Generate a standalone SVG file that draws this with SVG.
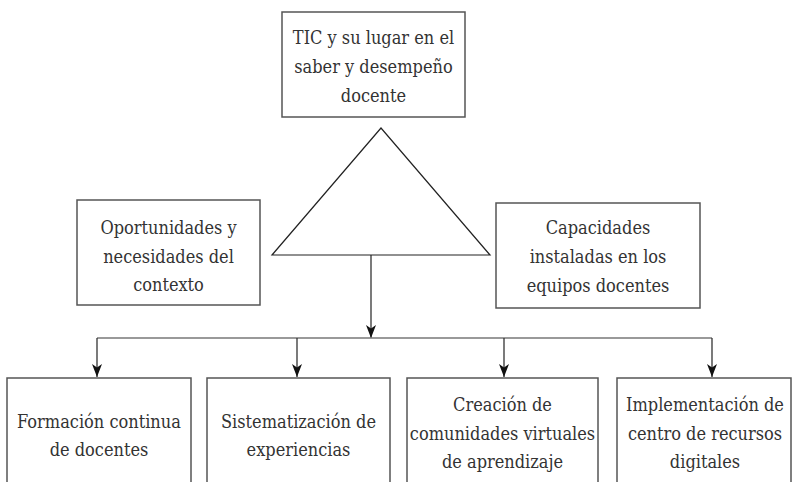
<svg xmlns="http://www.w3.org/2000/svg" width="793" height="482" viewBox="0 0 793 482">
<defs>
<style>
.box{fill:#fff;stroke:#555;stroke-width:1.5}
.tri{fill:#fff;stroke:#222;stroke-width:1.2}
.ln{fill:none;stroke:#333;stroke-width:1.3}
.hl{fill:none;stroke:#777;stroke-width:1.5}
.t{font-family:'DejaVu Serif Condensed','DejaVu Serif',serif;font-stretch:condensed;font-size:18px;fill:#333;text-anchor:middle}
</style>
<marker id="ah" markerWidth="13" markerHeight="10" refX="13" refY="5" orient="auto" markerUnits="userSpaceOnUse" viewBox="0 0 13 10">
<path d="M0,0 L13,5 L0,10 L3.5,5 Z" fill="#111"/>
</marker>
</defs>
<rect width="793" height="482" fill="#fff"/>
<g id="connectors">
<line class="ln" x1="371" y1="255" x2="371" y2="338" marker-end="url(#ah)"/>
<line class="hl" x1="97" y1="338" x2="712" y2="338"/>
<line class="ln" x1="97" y1="338" x2="97" y2="377" marker-end="url(#ah)"/>
<line class="ln" x1="297" y1="338" x2="297" y2="377" marker-end="url(#ah)"/>
<line class="ln" x1="504" y1="338" x2="504" y2="377" marker-end="url(#ah)"/>
<line class="ln" x1="712" y1="338" x2="712" y2="377" marker-end="url(#ah)"/>
</g>
<g id="top" class="t">
<rect class="box" x="282" y="12" width="183" height="105"/>
<text x="373.5" y="44">TIC y su lugar en el</text>
<text x="373.5" y="73">saber y desempeño</text>
<text x="373.5" y="102">docente</text>
</g>
<g id="triangle">
<polygon class="tri" points="381,128 272,255 490,255"/>
</g>
<g id="left" class="t">
<rect class="box" x="77" y="200" width="183" height="105"/>
<text x="168.5" y="234">Oportunidades y</text>
<text x="168.5" y="263">necesidades del</text>
<text x="168.5" y="291">contexto</text>
</g>
<g id="right" class="t">
<rect class="box" x="496" y="203" width="204" height="105"/>
<text x="598" y="234">Capacidades</text>
<text x="598" y="263">instaladas en los</text>
<text x="598" y="292">equipos docentes</text>
</g>
<g id="b1" class="t">
<path class="box" d="M7,490 V378 H191 V490"/>
<text x="99" y="428">Formación continua</text>
<text x="99" y="456">de docentes</text>
</g>
<g id="b2" class="t">
<path class="box" d="M207,490 V378 H390 V490"/>
<text x="298.5" y="428">Sistematización de</text>
<text x="298.5" y="456">experiencias</text>
</g>
<g id="b3" class="t">
<path class="box" d="M407,490 V378 H598 V490"/>
<text x="502.5" y="411">Creación de</text>
<text x="502.5" y="440">comunidades virtuales</text>
<text x="502.5" y="468">de aprendizaje</text>
</g>
<g id="b4" class="t">
<path class="box" d="M617,490 V378 H791 V490"/>
<text x="705" y="411">Implementación de</text>
<text x="705" y="440">centro de recursos</text>
<text x="705" y="468">digitales</text>
</g>
</svg>
